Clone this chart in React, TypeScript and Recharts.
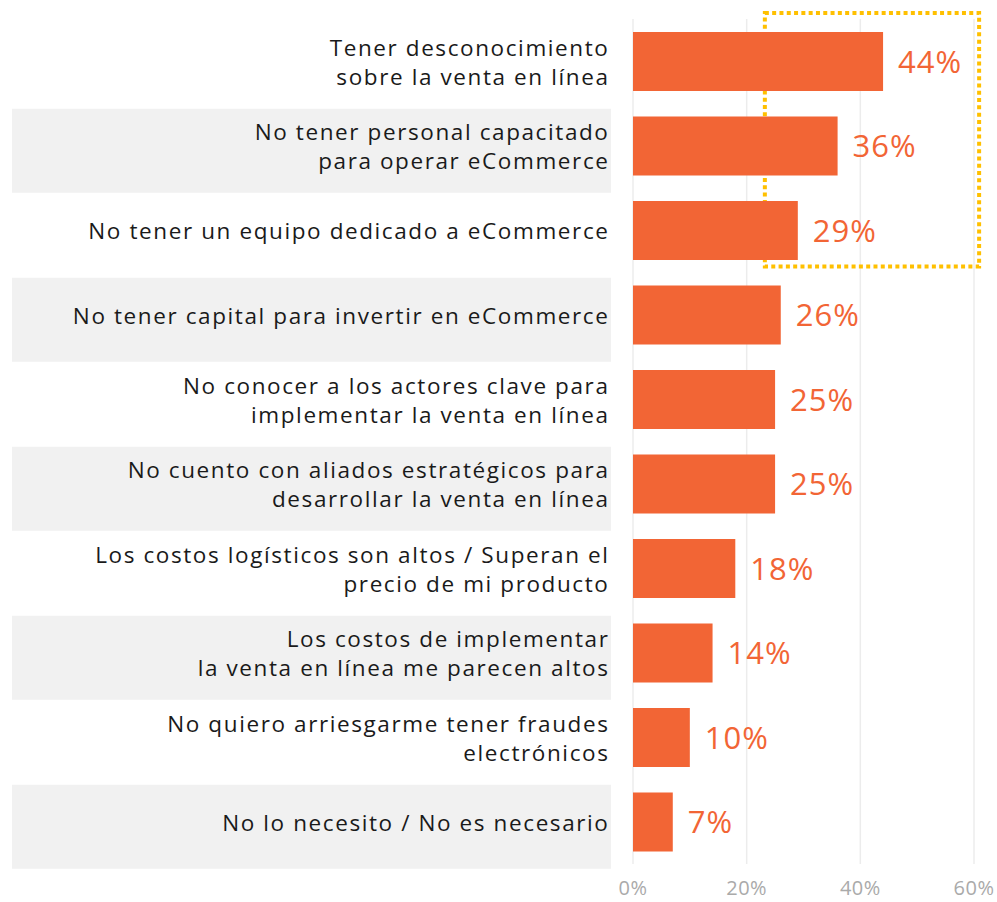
import React from "react";
import {
  BarChart,
  Bar,
  XAxis,
  YAxis,
  CartesianGrid,
  LabelList,
  ReferenceArea,
} from "recharts";

const categories = [
  "Tener desconocimiento\nsobre la venta en línea",
  "No tener personal capacitado\npara operar eCommerce",
  "No tener un equipo dedicado a eCommerce",
  "No tener capital para invertir en eCommerce",
  "No conocer a los actores clave para\nimplementar la venta en línea",
  "No cuento con aliados estratégicos para\ndesarrollar la venta en línea",
  "Los costos logísticos son altos / Superan el\nprecio de mi producto",
  "Los costos de implementar\nla venta en línea me parecen altos",
  "No quiero arriesgarme tener fraudes\nelectrónicos",
  "No lo necesito / No es necesario",
];
const values = [44, 36, 29, 26, 25, 25, 18, 14, 10, 7];
const xTicks = [0, 20, 40, 60];

// highlighted block (top three answers)
const highlightX = [23.2, 60.9];
const highlightRows = [categories[0], categories[2]];

const data = categories.map((name, i) => ({ name, value: values[i] }));

const ORANGE = "#F26535";
const FONT = "'Open Sans', 'Noto Sans', sans-serif";

const CategoryTick = (props: any) => {
  const { x, y, payload } = props;
  const idx = categories.indexOf(payload.value);
  const lines: string[] = String(payload.value).split("\n");
  const lh = 29;
  const start = -((lines.length - 1) * lh) / 2;
  return (
    <g>
      {idx % 2 === 1 && (
        <rect x={12} y={y - 37} width={599} height={84} fill="#F1F1F1" />
      )}
      <text
        x={x + 1.5}
        y={y + 1}
        textAnchor="end"
        fill="#1a1a1a"
        fontSize={22.5}
        letterSpacing={1.6}
        fontFamily={FONT}
      >
        {lines.map((l, i) => (
          <tspan key={i} x={x + 1.5} y={y + 1 + start + i * lh} dy="0.35em">
            {l}
          </tspan>
        ))}
      </text>
    </g>
  );
};

const HighlightBox = (props: any) => {
  const { x, y, width, height } = props;
  return (
    <rect
      x={x}
      y={y - 6}
      width={width}
      height={height}
      fill="none"
      stroke="#FFC000"
      strokeWidth={4}
      strokeDasharray="4 3.3"
    />
  );
};

export default function App() {
  return (
    <div style={{ position: "absolute", left: 0, top: 0, background: "#fff" }}>
      <BarChart
        width={997}
        height={902}
        data={data}
        layout="vertical"
        margin={{ top: 19, right: 23, left: 0, bottom: 0 }}
      >
        <CartesianGrid horizontal={false} stroke="#ECECEC" strokeWidth={1.5} />
        <XAxis
          type="number"
          domain={[0, 60]}
          ticks={xTicks}
          tickFormatter={(v) => `${v}%`}
          axisLine={false}
          tickLine={false}
          tickSize={6}
          tickMargin={11}
          height={38}
          tick={{ fontSize: 20, fill: "#AAAAAA", fontFamily: FONT, letterSpacing: 0.5 }}
        />
        <YAxis
          type="category"
          dataKey="name"
          width={633}
          axisLine={false}
          tickLine={false}
          tickSize={0}
          tickMargin={25}
          interval={0}
          tick={<CategoryTick />}
        />
        <Bar dataKey="value" fill={ORANGE} barSize={59} isAnimationActive={false}>
          <LabelList
            dataKey="value"
            position="right"
            offset={15}
            formatter={(v: any) => `${v}%`}
            fill={ORANGE}
            fontSize={31}
            letterSpacing={1}
            fontFamily={FONT}
          />
        </Bar>
        <ReferenceArea
          x1={highlightX[0]}
          x2={highlightX[1]}
          y1={highlightRows[0]}
          y2={highlightRows[1]}
          ifOverflow="visible"
          shape={<HighlightBox />}
        />
      </BarChart>
    </div>
  );
}
